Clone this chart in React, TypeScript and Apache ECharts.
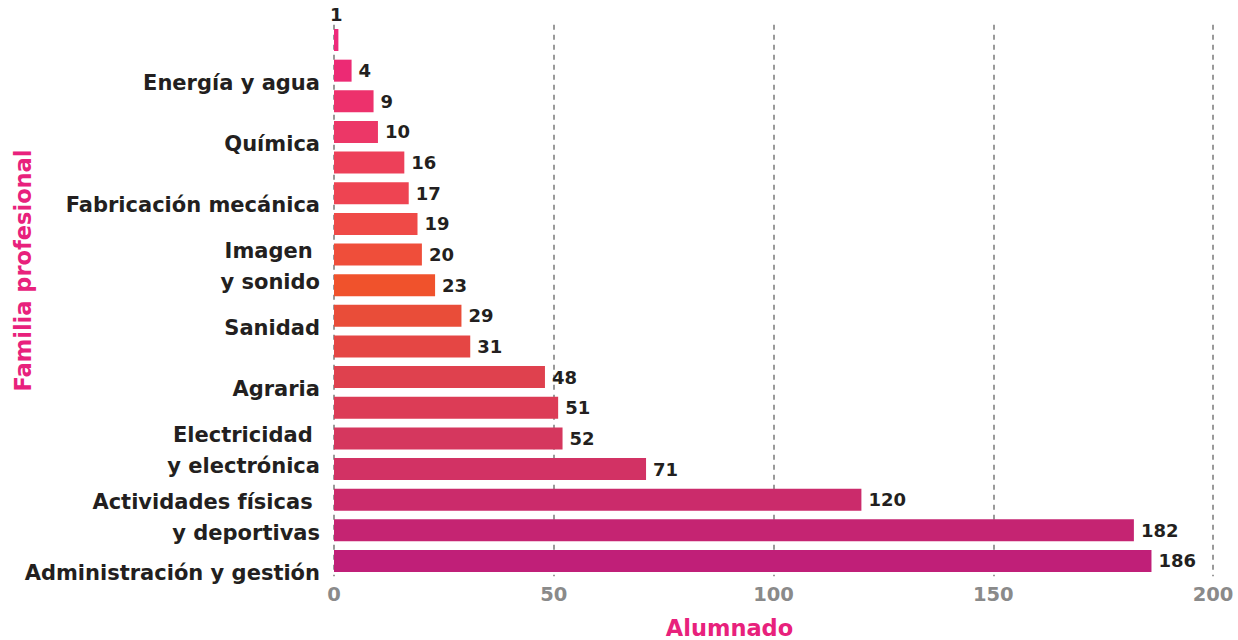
import React, { useEffect, useRef } from "react";
import * as echarts from "echarts";

// Categories from bottom (index 0) to top; only every other one carries a label
const categoryLabels: string[] = [
  "Administración y gestión",
  "",
  "Actividades físicas \ny deportivas",
  "",
  "Electricidad \ny electrónica",
  "",
  "Agraria",
  "",
  "Sanidad",
  "",
  "Imagen \ny sonido",
  "",
  "Fabricación mecánica",
  "",
  "Química",
  "",
  "Energía y agua",
  "",
];

const values: number[] = [186, 182, 120, 71, 52, 51, 48, 31, 29, 23, 20, 19, 17, 16, 10, 9, 4, 1];

const barColors: string[] = [
  "#c01f78", "#c52472", "#cb2b6b", "#d23264", "#d5375e", "#dc3c56",
  "#df414e", "#e54644", "#e94d39", "#f0522c", "#ef4e3a", "#ef4a47",
  "#ee4452", "#ed4059", "#ec3767", "#ed316c", "#ec2a74", "#ee2a7b",
];

const xTicks: number[] = [0, 50, 100, 150, 200];

const PINK = "#e8217c";
const FONT = "'DejaVu Sans', sans-serif";

export default function App() {
  const ref = useRef<HTMLDivElement>(null);

  useEffect(() => {
    document.body.style.margin = "0";
    if (!ref.current) return;
    const chart = echarts.init(ref.current, undefined, { renderer: "svg" });

    const labelText = { color: "#231f20", fontFamily: FONT, fontWeight: "bold", fontSize: 21, lineHeight: 31, align: "right" };

    chart.setOption({
      animation: false,
      grid: {
        left: 334,
        right: 25,
        top: 24.7,
        bottom: 63.7,
        containLabel: false,
        outerBoundsMode: "none",
      },
      xAxis: {
        type: "value",
        min: xTicks[0],
        max: xTicks[xTicks.length - 1],
        interval: 50,
        name: "Alumnado",
        nameLocation: "middle",
        nameGap: 40,
        nameMoveOverlap: false,
        nameTextStyle: {
          color: PINK,
          fontFamily: FONT,
          fontWeight: "bold",
          fontSize: 22.5,
          padding: [0, 88, 0, 0],
        },
        axisLine: { show: false },
        axisTick: { show: false },
        axisLabel: {
          color: "#8a8a8a",
          fontFamily: FONT,
          fontWeight: "bold",
          fontSize: 19.5,
          margin: 8,
        },
        splitLine: {
          show: true,
          lineStyle: { color: "#9a9a9a", width: 2, type: [5, 5] },
        },
      },
      yAxis: {
        type: "category",
        data: categoryLabels.map((_l, i) => "c" + i),
        name: "Familia profesional",
        nameLocation: "middle",
        nameRotate: 90,
        nameGap: 300,
        nameMoveOverlap: false,
        nameTextStyle: {
          color: PINK,
          fontFamily: FONT,
          fontWeight: "bold",
          fontSize: 22.5,
          padding: [0, 0, 0, 60],
        },
        axisLine: { show: false },
        axisTick: { show: false },
        axisLabel: {
          interval: 0,
          margin: 14,
          ...labelText,
          formatter: (_v: string, i: number) => {
            const label = categoryLabels[i];
            if (!label) return "";
            const lines = label.split("\n").map((l) => "{a|" + l + "}");
            return (i === 2 ? "{s2| }" : "{s| }") + "\n" + lines.join("\n");
          },
          rich: {
            a: labelText,
            s: { fontSize: 10, lineHeight: 24, align: "right" },
            s2: { fontSize: 10, lineHeight: 36, align: "right" },
          },
        },
        splitLine: { show: false },
      },
      series: [
        {
          type: "bar",
          barWidth: 22,
          data: values.map((v, i) => ({
            value: v,
            itemStyle: { color: barColors[i] },
            label: i === values.length - 1 ? { position: "top", distance: 6 } : undefined,
          })),
          label: {
            show: true,
            position: "right",
            distance: 7,
            color: "#231f20",
            fontFamily: FONT,
            fontWeight: "bold",
            fontSize: 18,
          },
        },
      ],
    });

    return () => chart.dispose();
  }, []);

  return (
    <div
      ref={ref}
      style={{ position: "fixed", left: 0, top: 0, width: 1238, height: 640, background: "#fff" }}
    />
  );
}
